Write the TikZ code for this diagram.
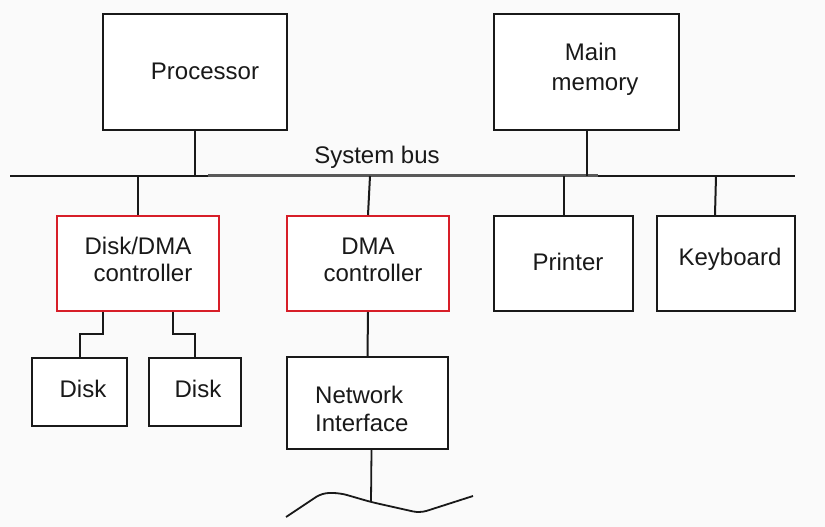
\documentclass[tikz,border=0pt]{standalone}
\usepackage{fontspec}
\setmainfont{Liberation Sans}
\definecolor{bg}{RGB}{250,250,250}
\definecolor{ctlred}{RGB}{215,30,40}
\begin{document}
\begin{tikzpicture}[x=1pt,y=-1pt,
  box/.style={draw=black!90,line width=2pt,fill=white,inner sep=0pt,minimum width=#1},
  redbox/.style={box=#1,draw=ctlred},
  lbl/.style={anchor=base,inner sep=0pt,font=\fontsize{24}{28}\selectfont,text=black!90},
  wire/.style={draw=black!90,line width=2pt}]
\useasboundingbox[fill=bg] (0,0) rectangle (825,527);
% boxes
\node[box=184pt,minimum height=116pt] (proc) at (195,72) {};
\node[box=185pt,minimum height=116pt] (mem) at (586.5,72) {};
\node[redbox=162pt,minimum height=95pt] (ddc) at (138,263.5) {};
\node[redbox=162pt,minimum height=95pt] (dma) at (368,263.5) {};
\node[box=139pt,minimum height=95pt] (prn) at (563.5,263.5) {};
\node[box=138pt,minimum height=95pt] (kbd) at (726,263.5) {};
\node[box=95pt,minimum height=68pt] (d1) at (79.5,392) {};
\node[box=92pt,minimum height=68pt] (d2) at (195,392) {};
\node[box=161pt,minimum height=92pt] (ni) at (367.5,403) {};
% labels
\node[lbl] (tproc) at (205,80) {Processor};
\node[lbl] (tmem1) at (591,60) {Main};
\node[lbl] (tmem2) at (595,91) {memory};
\node[lbl] (tddc1) at (138,254) {Disk/DMA};
\node[lbl] (tddc2) at (143,281) {controller};
\node[lbl] (tdma1) at (368,254) {DMA};
\node[lbl] (tdma2) at (373,281) {controller};
\node[lbl] (tprn) at (568,270) {Printer};
\node[lbl] (tkbd) at (730,265) {Keyboard};
\node[lbl] (td1) at (83,397) {Disk};
\node[lbl] (td2) at (198,397) {Disk};
\node[lbl,anchor=base west] (tni1) at (315,403) {Network};
\node[lbl,anchor=base west] (tni2) at (315,431) {Interface};
\node[lbl] (tbus) at (377,163) {System bus};
% system bus
\coordinate (busL) at (10,176);
\coordinate (busR) at (795,176);
\coordinate (busgA) at (208,175.5);
\coordinate (busgB) at (598,175.5);
\draw[wire] (busL) -- (busR);
\draw[draw=black!65,line width=2.2pt] (busgA) -- (busgB);
% bus taps
\draw[wire] (proc.south) -- (proc.south |- busL);
\draw[wire] (mem.south) -- (mem.south |- busL);
\draw[wire] (ddc.north) -- (ddc.north |- busL);
\draw[wire] (dma.north) -- ([xshift=2pt]dma.north |- busL);
\draw[wire] (prn.north) -- (prn.north |- busL);
\draw[wire] ([xshift=-11pt]kbd.north) -- ([xshift=-10pt]kbd.north |- busL);
% disk links
\draw[wire] ([xshift=-35pt]ddc.south) -- ++(0,22) -| (d1.north);
\draw[wire] ([xshift=35pt]ddc.south) -- ++(0,22) -| (d2.north);
% DMA to network interface
\draw[wire] (dma.south) -- (ni.north);
% network cable
\coordinate (w1) at (286,517);
\coordinate (w2) at (322,493);
\coordinate (w3) at (340,493);
\coordinate (w4) at (371,502);
\coordinate (w5) at (420,513);
\coordinate (w6) at (473,496);
\draw[wire,line width=1.8pt,rounded corners=7pt] (w1) -- (w2) -- (w3) -- (w4) -- (w5) -- (w6);
\draw[wire,line width=1.8pt] ([xshift=4pt]ni.south) -- (w4);
\end{tikzpicture}
\end{document}
